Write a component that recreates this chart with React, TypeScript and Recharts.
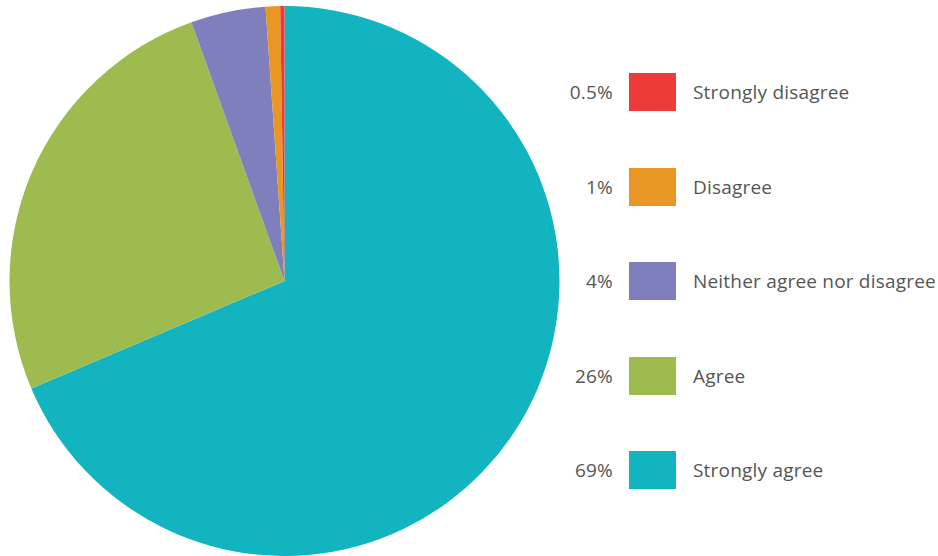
import React from "react";
import { PieChart, Pie, Cell, Legend } from "recharts";

// Legend order (top to bottom)
const categories = ["Strongly disagree", "Disagree", "Neither agree nor disagree", "Agree", "Strongly agree"];
const values = [0.25, 0.85, 4.4, 25.9, 68.65];
const pctLabels = ["0.5%", "1%", "4%", "26%", "69%"];
const colors = ["#EF3A3A", "#E99624", "#7F7FBE", "#9DBB4E", "#12B4BF"];

// pie draws clockwise from the top starting with "Strongly agree"
const pieData = categories
  .map((name, i) => ({ name, value: values[i], color: colors[i], pct: pctLabels[i] }))
  .reverse();

const FONT = "'Open Sans', sans-serif";
const TEXT_STYLE: React.CSSProperties = {
  position: "absolute",
  top: 0,
  height: 38,
  lineHeight: "38px",
  fontSize: 19,
  letterSpacing: 0.2,
  color: "#555555",
  whiteSpace: "nowrap",
};

const LegendContent = (props: any) => {
  const payload = props.payload || [];
  return (
    <div style={{ position: "relative", width: 378, height: 556, fontFamily: FONT }}>
      {categories.map((cat, i) => {
        const p = payload.find((q: any) => q.value === cat);
        if (!p) return null;
        const top = 73 + i * 94.5;
        return (
          <div key={cat} style={{ position: "absolute", top, left: 0, height: 38, width: 378 }}>
            <div style={{ ...TEXT_STYLE, right: 378 - 53 }}>{p.payload.pct}</div>
            <div style={{ position: "absolute", left: 69, top: 0, width: 47, height: 38, background: p.color }} />
            <div style={{ ...TEXT_STYLE, left: 133 }}>{p.value}</div>
          </div>
        );
      })}
    </div>
  );
};

export default function App() {
  return (
    <div style={{ position: "absolute", left: 0, top: 0, width: 938, height: 556, background: "#fff" }}>
      <PieChart width={938} height={556} margin={{ top: 0, right: 0, bottom: 0, left: 0 }}>
        <Pie
          data={pieData}
          dataKey="value"
          nameKey="name"
          cx={284.5}
          cy={281}
          outerRadius={275}
          startAngle={90}
          endAngle={-270}
          stroke="none"
          isAnimationActive={false}
        >
          {pieData.map((d) => (
            <Cell key={d.name} fill={d.color} />
          ))}
        </Pie>
        <Legend
          content={<LegendContent />}
          wrapperStyle={{ position: "absolute", left: 560, top: 0, width: 378, height: 556 }}
        />
      </PieChart>
    </div>
  );
}
